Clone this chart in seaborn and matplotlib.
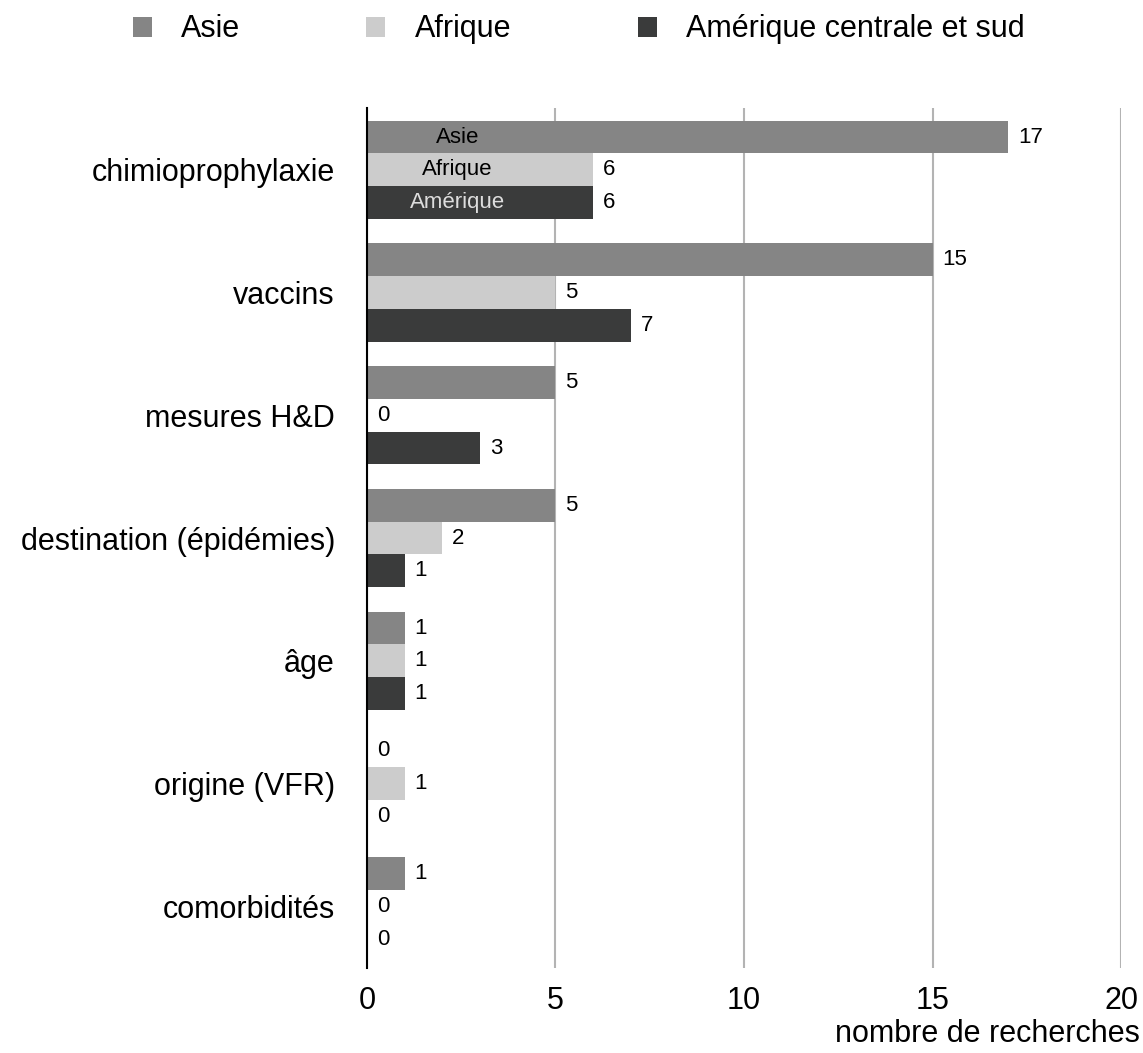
import pandas as pd
import numpy as np
import matplotlib
matplotlib.use('Agg')
import matplotlib.pyplot as plt
import seaborn as sns
from matplotlib.patches import Patch

# Données
categories = ['chimioprophylaxie', 'vaccins', 'mesures H&D', 'destination (épidémies)',
              'âge', 'origine (VFR)', 'comorbidités']
regions = ['Asie', 'Afrique', 'Amérique centrale et sud']
asie = [17, 15, 5, 5, 1, 0, 1]
afrique = [6, 5, 0, 2, 1, 1, 0]
amerique = [6, 7, 3, 1, 1, 0, 0]
couleurs = ['#858585', '#cccccc', '#3a3b3b']
x_ticks = [0, 5, 10, 15, 20]

df = pd.DataFrame({
    'critere': categories * 3,
    'region': np.repeat(regions, len(categories)),
    'n': asie + afrique + amerique,
})

sns.set_style('white')
plt.rcParams['font.family'] = ['Liberation Sans', 'DejaVu Sans']
plt.rcParams['text.color'] = 'black'
plt.rcParams['xtick.color'] = 'black'
plt.rcParams['ytick.color'] = 'black'

fig = plt.figure(figsize=(11.43, 10.53), dpi=100)
ax = fig.add_axes([0.321, 0.081, 0.66, 0.816])

sns.barplot(data=df, x='n', y='critere', hue='region', order=categories,
            hue_order=regions, palette=couleurs, width=0.8, orient='h',
            saturation=1, legend=False, linewidth=0, ax=ax)

# étiquettes de valeur
for cont in ax.containers:
    ax.bar_label(cont, padding=7, fontsize=16, color='black')

# étiquettes dans les barres du premier groupe
noms_courts = ['Asie', 'Afrique', 'Amérique']
couleurs_txt = ['black', 'black', '#dddddd']
for cont, nom, c in zip(ax.containers, noms_courts, couleurs_txt):
    bar = cont[0]
    ax.text(2.4, bar.get_y() + bar.get_height() / 2, nom, ha='center', va='center',
            fontsize=16, color=c)

ax.set_xlim(0, 20)
ax.set_ylim(6.5, -0.5)
ax.set_xticks(x_ticks)
ax.xaxis.grid(True, color='#b3b3b3', linewidth=1.5)
ax.set_axisbelow(True)
for s in ['top', 'right', 'bottom']:
    ax.spines[s].set_visible(False)
ax.spines['left'].set_color('black')
ax.spines['left'].set_linewidth(1.5)
ax.spines['left'].set_zorder(5)
ax.tick_params(axis='y', length=0, pad=23, labelsize=22)
ax.tick_params(axis='x', length=0, pad=13, labelsize=22)
ax.set_xlabel('')
ax.set_ylabel('')

fig.text(1140 / 1143, 1 - 1034 / 1053, 'nombre de recherches', ha='right', va='center',
         fontsize=22)

handles = [Patch(facecolor=c, edgecolor='none', label=r) for c, r in zip(couleurs, regions)]
fig.legend(handles=handles, loc='center left', bbox_to_anchor=(0.116, 0.972), ncol=3,
           frameon=False, fontsize=22, handlelength=0.62, handleheight=0.62,
           handletextpad=0.95, columnspacing=4.15, borderaxespad=0, borderpad=0)

fig.savefig('out.png', dpi=100)
